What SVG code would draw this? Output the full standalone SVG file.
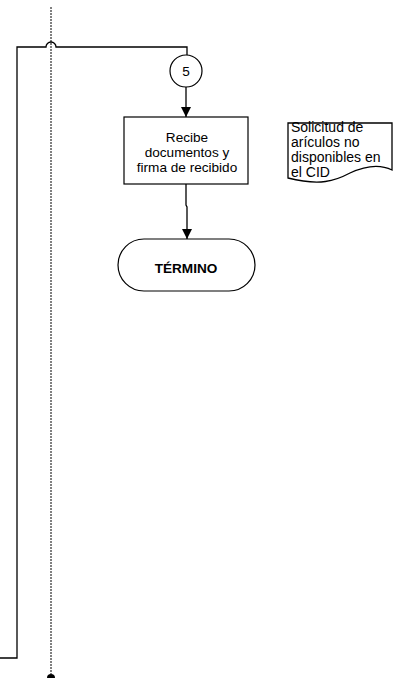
<svg xmlns="http://www.w3.org/2000/svg" width="397" height="678" viewBox="0 0 397 678">
<style>
.ln{fill:none;stroke:#000;stroke-width:1.3}
.dot{fill:none;stroke:#000;stroke-width:1;stroke-dasharray:2,1}
.t{font-family:"Liberation Sans",Arial,sans-serif;font-size:13.6px;fill:#000;text-anchor:middle}
.d{font-family:"Liberation Sans",Arial,sans-serif;font-size:14px;fill:#000}
</style>
<defs>
<marker id="ah" markerWidth="10" markerHeight="10" refX="10" refY="5" orient="auto" markerUnits="userSpaceOnUse">
<path d="M0,0 L10,5 L0,10 Z" fill="#000"/>
</marker>
</defs>
<rect width="397" height="678" fill="#fff"/>
<g id="connectors">
<line class="dot" x1="51" y1="7" x2="51" y2="674"/>
<path d="M47,678 A4,4 0 0 1 55,678 Z" fill="#000"/>
<path class="ln" d="M0,658 L17,658 L17,47 L46,47 A5,5 0 0 1 56,47 L187,47 L187,55"/>
<line class="ln" x1="186" y1="87" x2="186" y2="117" marker-end="url(#ah)"/>
<path class="ln" d="M186,184 L186,205 L187,207 L187,239" marker-end="url(#ah)"/>
</g>
<g id="node-5">
<circle cx="186" cy="71" r="16" fill="#fff" stroke="#000" stroke-width="1.2"/>
<text class="t" x="186" y="76" font-size="14">5</text>
</g>
<g id="node-recibe">
<rect x="124" y="117" width="124" height="67" fill="#fff" stroke="#000" stroke-width="1.2"/>
<text class="t" x="187" y="142">Recibe</text>
<text class="t" x="187" y="157">documentos y</text>
<text class="t" x="187" y="172">firma de recibido</text>
</g>
<g id="node-termino">
<rect x="118" y="239" width="137" height="52" rx="26" ry="26" fill="#fff" stroke="#000" stroke-width="1.2"/>
<text class="t" x="186" y="272.5" font-size="15.6" font-weight="bold">TÉRMINO</text>
</g>
<g id="node-doc">
<path class="ln" stroke-width="1" d="M288,178 L288,123 L392,123 L392,170 C380,164 365,166 350,173 C335,181 320,186 288,178 Z" fill="#fff"/>
<text class="d" x="291" y="132">Solicitud de</text>
<text class="d" x="291" y="147">arículos no</text>
<text class="d" x="291" y="162">disponibles en</text>
<text class="d" x="291" y="177">el CID</text>
</g>
</svg>
